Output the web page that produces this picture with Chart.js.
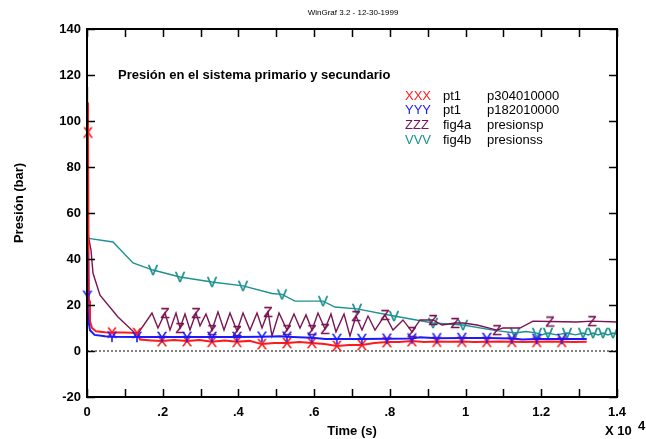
<!DOCTYPE html>
<html lang="es">
<head>
<meta charset="UTF-8">
<title>Presión en el sistema primario y secundario</title>
<script src="https://cdn.jsdelivr.net/npm/chart.js"></script>
<style>
  html, body { margin: 0; padding: 0; background: #fff; }
</style>
</head>
<body>
<canvas id="presChart" width="646" height="439"></canvas>
<script>
// time in seconds, pressure in bar
var xTickLabels = ['0', '', '.2', '', '.4', '', '.6', '', '.8', '', '1', '', '1.2', '', '1.4'];

var redTime = [0, 26, 40, 53, 79, 132, 238, 475, 660, 1000, 1320, 1400, 1700, 1980, 2300, 2640, 2970, 3300, 3630, 3960, 4290, 4620, 4950, 5280, 5610, 5940, 6270, 6600, 6930, 7260, 7590, 7920, 8250, 8580, 8910, 9240, 9570, 9900, 10230, 10560, 10890, 11220, 11550, 11880, 12210, 12540, 12870, 13200];
var redPres = [108, 95, 44, 22, 13, 10, 8.6, 8.2, 8.0, 8.0, 7.8, 5.0, 4.6, 4.3, 4.8, 4.3, 4.8, 4.0, 4.6, 4.0, 4.4, 3.0, 3.5, 3.5, 3.9, 3.5, 3.0, 2.2, 2.6, 2.6, 3.5, 3.9, 3.9, 4.3, 3.9, 4.1, 4.0, 4.1, 3.9, 4.0, 4.1, 4.0, 3.9, 4.0, 4.1, 4.0, 3.9, 4.0];
var redMarks = [26, 660, 1320, 1980, 2640, 3300, 3960, 4620, 5280, 5940, 6600, 7260, 7920, 8580, 9240, 9900, 10560, 11220, 11880, 12540];

var blueTime = [0, 10, 30, 80, 200, 475, 660, 1320, 1980, 2640, 3300, 3960, 4620, 5100, 5280, 5600, 5940, 6300, 6600, 7260, 7920, 8580, 8800, 9240, 9900, 10560, 11220, 11500, 11880, 12540, 13200];
var bluePres = [43, 24, 14, 9, 7, 6.4, 6.2, 6.1, 6.1, 6.1, 6.1, 6.1, 6.2, 6.4, 6.2, 6.0, 5.8, 5.2, 5.2, 5.2, 5.3, 5.4, 6.0, 5.5, 5.6, 5.6, 5.4, 5.0, 5.2, 5.2, 5.2];
var blueMarks = [10, 660, 1320, 1980, 2640, 3300, 3960, 4620, 5280, 5940, 6600, 7260, 7920, 8580, 9240, 9900, 10560, 11220, 11880, 12540];

var purpleTime = [0, 13, 40, 106, 158, 343, 819, 1321, 1717, 1875, 2060, 2192, 2351, 2457, 2589, 2721, 2879, 2985, 3143, 3302, 3460, 3619, 3777, 3962, 4121, 4306, 4491, 4623, 4781, 4887, 5072, 5283, 5468, 5626, 5785, 5943, 6102, 6287, 6445, 6577, 6789, 6947, 7106, 7264, 7423, 7608, 7872, 8083, 8347, 8585, 8796, 9140, 9377, 9721, 9932, 10302, 10830, 10989, 11438, 11781, 12230, 12943, 13340, 14000];
var purplePres = [114.8, 58.3, 49.6, 43.9, 33.9, 24.3, 14.8, 7.0, 16.5, 10.0, 16.5, 9.1, 16.5, 10.0, 16.1, 9.1, 16.5, 10.9, 16.1, 9.1, 17.0, 9.1, 16.5, 8.7, 16.5, 9.1, 16.5, 10.0, 17.0, 6.5, 16.5, 9.1, 16.1, 10.0, 15.7, 9.1, 16.5, 9.6, 16.1, 8.3, 16.1, 6.5, 15.2, 9.1, 15.2, 9.1, 15.7, 9.1, 13.5, 8.3, 13.5, 13.5, 11.3, 12.2, 12.2, 11.3, 9.1, 10.0, 10.0, 13.0, 12.8, 12.6, 13.0, 12.6];
var purpleMarks = [2060, 2457, 2879, 3302, 3962, 4781, 5283, 5943, 6287, 7106, 7872, 8585, 9140, 9721, 10830, 12230, 13340];

var tealTime = [0, 687, 1215, 1743, 2457, 3302, 4121, 4887, 5151, 5494, 6234, 6551, 7132, 8109, 9140, 9932, 10724, 11306, 11600, 11887, 12000, 12177, 12400, 12679, 12900, 13102, 13240, 13366, 13500, 13630, 13760, 13894, 14000];
var tealPres = [49.1, 47.4, 38.3, 35.2, 32.2, 30.0, 28.3, 25.0, 24.6, 21.7, 21.7, 19.1, 18.3, 15.2, 12.2, 11.3, 9.1, 7.8, 8.5, 7.8, 7.0, 7.8, 7.0, 7.8, 7.0, 7.8, 7.0, 7.8, 7.0, 7.8, 7.0, 7.8, 7.2];
var tealMarks = [1743, 2457, 3302, 4121, 5151, 6234, 7132, 8109, 9140, 9932, 11306, 11887, 12177, 12679, 13102, 13366, 13630, 13894];

var legendMarks = ['XXX', 'YYY', 'ZZZ', 'VVV'];
var legendNames = ['pt1', 'pt1', 'fig4a', 'fig4b'];
var legendVars = ['p304010000', 'p182010000', 'presionsp', 'presionss'];
var colors = ['#ff1a1a', '#1a1aff', '#7a1450', '#1f9090'];

var FONT = '"Liberation Sans", Arial, sans-serif';

// letter used as the point marker
function glyph(ch, color) {
    var c = document.createElement('canvas');
    c.width = 16; c.height = 16;
    var g = c.getContext('2d');
    g.font = '15px ' + FONT;
    g.fillStyle = color;
    g.strokeStyle = color;
    g.lineWidth = 0.4;
    g.textAlign = 'center';
    g.textBaseline = 'middle';
    g.fillText(ch, 8, 8.5);
    g.strokeText(ch, 8, 8.5);
    return c;
}

function series(label, times, pres, marks, color, ch, width, order) {
    return {
        label: label,
        data: times.map(function (t, i) { return { x: t, y: pres[i] }; }),
        borderColor: color,
        borderWidth: width,
        pointStyle: glyph(ch, color),
        pointRadius: times.map(function (t) { return marks.indexOf(t) >= 0 ? 5 : 0; }),
        tension: 0,
        fill: false,
        clip: 12,
        order: order
    };
}

var deco = {
    id: 'deco',
    beforeDatasetsDraw: function (chart) {
        var ctx = chart.ctx, a = chart.chartArea;
        var y0 = chart.scales.y.getPixelForValue(0);
        ctx.save();
        ctx.strokeStyle = '#808080';
        ctx.lineWidth = 2;
        ctx.setLineDash([2, 2]);
        ctx.beginPath();
        ctx.moveTo(a.left, y0);
        ctx.lineTo(a.right, y0);
        ctx.stroke();
        ctx.restore();
    },
    afterDatasetsDraw: function (chart) {
        var ctx = chart.ctx, a = chart.chartArea;
        var xs = chart.scales.x, ys = chart.scales.y;
        ctx.save();
        ctx.strokeStyle = '#000';
        ctx.lineWidth = 1.5;
        ctx.beginPath();
        xs.ticks.forEach(function (t) {
            var px = Math.round(xs.getPixelForValue(t.value)) + 0.5;
            ctx.moveTo(px, a.top); ctx.lineTo(px, a.top + 8);
            ctx.moveTo(px, a.bottom); ctx.lineTo(px, a.bottom - 8);
        });
        ys.ticks.forEach(function (t) {
            var py = Math.round(ys.getPixelForValue(t.value)) + 0.5;
            ctx.moveTo(a.left, py); ctx.lineTo(a.left + 8, py);
            ctx.moveTo(a.right, py); ctx.lineTo(a.right - 8, py);
        });
        ctx.stroke();
        ctx.lineWidth = 2;
        ctx.strokeRect(a.left, a.top, a.right - a.left, a.bottom - a.top);
        ctx.restore();
    },
    afterDraw: function (chart) {
        var ctx = chart.ctx;
        ctx.save();
        ctx.fillStyle = '#000';
        ctx.textBaseline = 'middle';
        ctx.textAlign = 'center';
        ctx.font = '8px ' + FONT;
        ctx.fillText('WinGraf 3.2 - 12-30-1999', 353, 13);

        // y axis title
        ctx.font = 'bold 13px ' + FONT;
        ctx.save();
        ctx.translate(19, 203);
        ctx.rotate(-Math.PI / 2);
        ctx.fillText('Presión (bar)', 0, 0);
        ctx.restore();

        ctx.textAlign = 'left';
        ctx.fillText('Presión en el sistema primario y secundario', 118, 75);

        ctx.fillText('X 10', 605, 431);
        ctx.fillText('4', 638, 426);

        ctx.font = '13px ' + FONT;
        for (var i = 0; i < legendMarks.length; i++) {
            var ly = 96 + i * 14.8;
            ctx.fillStyle = colors[i];
            ctx.fillText(legendMarks[i], 405, ly);
            ctx.fillStyle = '#000';
            ctx.fillText(legendNames[i], 443, ly);
            ctx.fillText(legendVars[i], 487, ly);
        }
        ctx.restore();
    }
};

var ctxLine = document.getElementById('presChart').getContext('2d');
var presChart = new Chart(ctxLine, {
    type: 'line',
    data: {
        datasets: [
            series('pt1 p304010000', redTime, redPres, redMarks, colors[0], 'X', 2, 1),
            series('pt1 p182010000', blueTime, bluePres, blueMarks, colors[1], 'Y', 2, 0),
            series('fig4a presionsp', purpleTime, purplePres, purpleMarks, colors[2], 'Z', 1.4, 2),
            series('fig4b presionss', tealTime, tealPres, tealMarks, colors[3], 'V', 1.4, 3)
        ]
    },
    options: {
        responsive: false,
        animation: false,
        events: [],
        devicePixelRatio: 1,
        layout: { padding: { left: 0, right: 29, top: 29, bottom: 0 } },
        plugins: {
            legend: { display: false },
            tooltip: { enabled: false }
        },
        scales: {
            x: {
                type: 'linear',
                min: 0,
                max: 14000,
                grid: { display: false, drawTicks: false },
                border: { display: false },
                afterFit: function (s) { s.height = 42; },
                ticks: {
                    stepSize: 1000,
                    autoSkip: false,
                    maxRotation: 0,
                    padding: 8,
                    color: '#000',
                    font: { family: FONT, size: 13, weight: 'bold' },
                    callback: function (v, i) { return xTickLabels[i]; }
                },
                title: {
                    display: true,
                    text: 'Time (s)',
                    color: '#000',
                    padding: { top: 0, bottom: 0 },
                    font: { family: FONT, size: 13, weight: 'bold' }
                }
            },
            y: {
                min: -20,
                max: 140,
                grid: { display: false, drawTicks: false },
                border: { display: false },
                afterFit: function (s) { s.width = 87; },
                ticks: {
                    stepSize: 20,
                    padding: 6,
                    color: '#000',
                    font: { family: FONT, size: 13, weight: 'bold' }
                }
            }
        }
    },
    plugins: [deco]
});
</script>
</body>
</html>
